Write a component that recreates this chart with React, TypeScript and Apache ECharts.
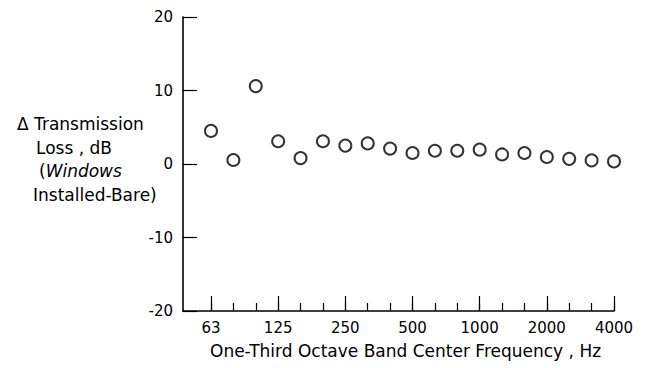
import React, { useEffect, useRef } from "react";
import * as echarts from "echarts";

const bands = ["63", "80", "100", "125", "160", "200", "250", "315", "400", "500", "630", "800", "1000", "1250", "1600", "2000", "2500", "3150", "4000"];
const deltaTL = [4.5, 0.55, 10.6, 3.1, 0.8, 3.1, 2.5, 2.8, 2.1, 1.5, 1.8, 1.8, 1.95, 1.3, 1.5, 0.95, 0.7, 0.5, 0.35];
const labelledBands = ["63", "125", "250", "500", "1000", "2000", "4000"];
const yTicks = [-20, -10, 0, 10, 20];

const FONT = "'DejaVu Sans', 'Liberation Sans', sans-serif";

export default function App() {
  const ref = useRef<HTMLDivElement>(null);
  useEffect(() => {
    if (!ref.current) return;
    const chart = echarts.init(ref.current, null, { renderer: "svg" });
    const allIdx = bands.map((_, i) => i);
    const labelIdx = labelledBands.map((b) => bands.indexOf(b));
    chart.setOption({
      animation: false,
      backgroundColor: "#fff",
      grid: { left: 183, top: 17, right: 31, bottom: 57 },
      xAxis: [
        {
          type: "value",
          min: -1.25,
          max: 18,
          position: "bottom",
          axisLine: { show: true, onZero: false, lineStyle: { color: "#000", width: 1.6 } },
          axisTick: { show: true, inside: true, length: 8, customValues: allIdx, lineStyle: { color: "#000", width: 1.2 } },
          axisLabel: {
            show: true,
            customValues: labelIdx,
            formatter: (v: number) => bands[Math.round(v)] ?? "",
            color: "#000",
            fontSize: 15,
            fontFamily: FONT,
            margin: 9,
          },
          splitLine: { show: false },
        },
        {
          type: "value",
          min: -1.25,
          max: 18,
          position: "bottom",
          axisLine: { show: false, onZero: false },
          axisTick: { show: true, inside: true, length: 15, customValues: labelIdx, lineStyle: { color: "#000", width: 1.2 } },
          axisLabel: { show: false },
          splitLine: { show: false },
        },
      ],
      yAxis: {
        type: "value",
        min: yTicks[0],
        max: yTicks[yTicks.length - 1],
        interval: 10,
        axisLine: { show: true, onZero: false, lineStyle: { color: "#000", width: 1.6 } },
        axisTick: { show: true, inside: true, length: 14, lineStyle: { color: "#000", width: 1.2 } },
        axisLabel: { color: "#000", fontSize: 15, fontFamily: FONT, margin: 10 },
        splitLine: { show: false },
      },
      series: [
        {
          type: "scatter",
          xAxisIndex: 0,
          data: deltaTL.map((v, i) => [i, v]),
          symbol: "circle",
          symbolSize: 12,
          itemStyle: { color: "#fff", borderColor: "#000", borderWidth: 2 },
        },
      ],
      graphic: [
        { type: "text", left: 17, top: 115, style: { text: "Δ Transmission", fontSize: 17, fontFamily: FONT, fill: "#000" } },
        { type: "text", left: 36, top: 139, style: { text: "Loss , dB", fontSize: 17, fontFamily: FONT, fill: "#000" } },
        {
          type: "text",
          left: 39,
          top: 162,
          style: {
            text: "({i|Windows}",
            fontSize: 17,
            fontFamily: FONT,
            fill: "#000",
            rich: { i: { fontStyle: "italic", fontSize: 17, fontFamily: FONT, fill: "#000" } },
          },
        },
        { type: "text", left: 33, top: 186, style: { text: "Installed-Bare)", fontSize: 17, fontFamily: FONT, fill: "#000" } },
        {
          type: "text",
          left: 210,
          top: 342,
          style: { text: "One-Third Octave Band Center Frequency , Hz", fontSize: 17, fontFamily: FONT, fill: "#000" },
        },
      ],
    });
    return () => chart.dispose();
  }, []);
  return <div ref={ref} style={{ width: 645, height: 368, position: "absolute", left: 0, top: 0 }} />;
}
